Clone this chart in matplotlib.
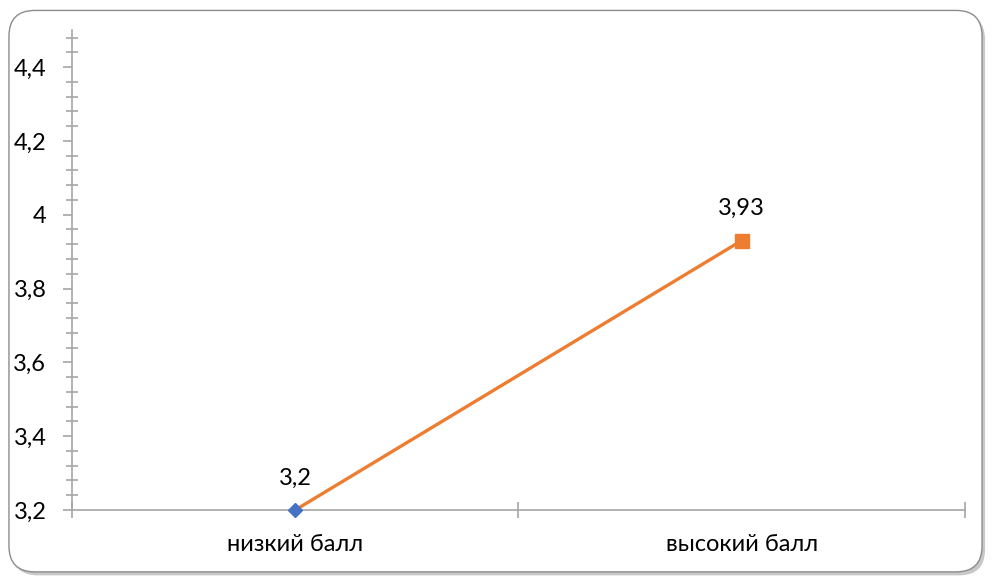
import numpy as np
import matplotlib
matplotlib.use('Agg')
import matplotlib.pyplot as plt
from matplotlib.patches import FancyBboxPatch
from matplotlib.ticker import FixedLocator, FuncFormatter, MultipleLocator

categories = ['низкий балл', 'высокий балл']
values = [3.2, 3.93]
value_labels = ['3,2', '3,93']

plt.rcParams['font.family'] = ['Lato', 'DejaVu Sans']

fig = plt.figure(figsize=(9.95, 5.8), dpi=100)

# рамка с тенью
asp = 995 / 580
shadow = FancyBboxPatch((0.012, 0.008), 0.978, 0.968, transform=fig.transFigure,
                        boxstyle='round,pad=0,rounding_size=0.026',
                        facecolor='#c8c8c8', edgecolor='none', zorder=-2,
                        mutation_aspect=asp)
frame = FancyBboxPatch((0.009, 0.014), 0.978, 0.968, transform=fig.transFigure,
                       boxstyle='round,pad=0,rounding_size=0.026',
                       facecolor='white', edgecolor='#8c8c8c', linewidth=1, zorder=-1,
                       mutation_aspect=asp)
fig.patches.extend([shadow, frame])

ax = fig.add_axes([0.0724, 0.1207, 0.8974, 0.8273])
ax.set_facecolor('none')

x = np.arange(len(categories))
ax.plot(x, values, color='#ED7D31', linewidth=2.4, zorder=3, clip_on=False)
ax.plot(x[0], values[0], marker='D', color='#4472C4', markersize=7, zorder=5,
        linestyle='none', clip_on=False)
ax.plot(x[1], values[1], marker='s', color='#ED7D31', markersize=10, zorder=5,
        linestyle='none', clip_on=False)

for xi, v, lab in zip(x, values, value_labels):
    ax.annotate(lab, (xi, v), xytext=(0, 23), textcoords='offset points',
                ha='center', va='center', fontsize=17, color='#000000')

ax.set_xlim(-0.5, 1.5)
ax.set_ylim(3.2, 4.5)

ax.set_xticks(x)
ax.set_xticklabels(categories)
ax.xaxis.set_minor_locator(FixedLocator([-0.5, 0.5, 1.5]))
ax.tick_params(axis='x', which='major', length=0, pad=17, labelsize=17)
ax.tick_params(axis='x', which='minor', length=11, direction='inout',
               color='#a6a6a6', width=1.2)

ax.yaxis.set_major_locator(FixedLocator([3.2, 3.4, 3.6, 3.8, 4.0, 4.2, 4.4]))
ax.yaxis.set_minor_locator(MultipleLocator(0.04))
ax.yaxis.set_major_formatter(FuncFormatter(lambda v, p: f'{v:g}'.replace('.', ',')))
ax.tick_params(axis='y', which='major', length=6.5, direction='out', pad=12,
               labelsize=17, color='#a6a6a6', width=1.2)
ax.tick_params(axis='y', which='minor', length=8.6, direction='inout',
               color='#a6a6a6', width=1.2)

for s in ['top', 'right']:
    ax.spines[s].set_visible(False)
for s in ['left', 'bottom']:
    ax.spines[s].set_color('#a6a6a6')
    ax.spines[s].set_linewidth(1.2)

fig.savefig('out.png', dpi=100)
